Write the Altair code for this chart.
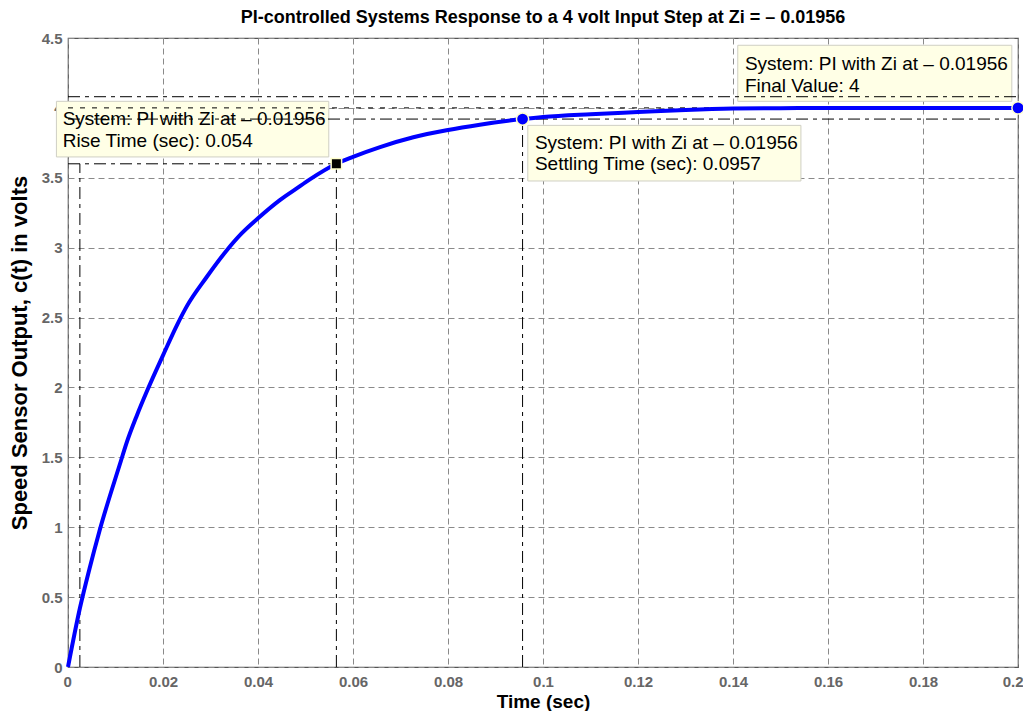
import altair as alt
import pandas as pd

# Step response
t_vals = [0, 0.0025, 0.0045, 0.0066, 0.0111, 0.0123, 0.0145, 0.0167, 0.02, 0.023, 0.025,
          0.0292, 0.0334, 0.0365, 0.04, 0.0446, 0.048, 0.051, 0.0565, 0.06, 0.0657, 0.0727,
          0.0797, 0.0867, 0.0957, 0.1, 0.11, 0.12, 0.13, 0.14, 0.15, 0.16, 0.18, 0.2]
c_vals = [0, 0.42, 0.7, 0.97, 1.47, 1.6, 1.8, 1.98, 2.23, 2.45, 2.58,
          2.79, 2.98, 3.1, 3.21, 3.34, 3.42, 3.49, 3.6, 3.65, 3.72, 3.79,
          3.84, 3.88, 3.92, 3.935, 3.955, 3.97, 3.985, 3.995, 3.998, 4.0, 4.0, 4.0]

x_ticks = [0, 0.02, 0.04, 0.06, 0.08, 0.1, 0.12, 0.14, 0.16, 0.18, 0.2]
y_ticks = [0, 0.5, 1, 1.5, 2, 2.5, 3, 3.5, 4, 4.5]

# Characteristic marker lines (x, x2, y, y2, style)
ml_x = [0, 0, 0, 0, 0.0025, 0.0565, 0.0957]
ml_x2 = [0.2, 0.2, 0.2, 0.0565, 0.0025, 0.0565, 0.0957]
ml_y = [4.08, 4.0, 3.92, 3.6, 0, 0, 0]
ml_y2 = [4.08, 4.0, 3.92, 3.6, 3.6, 3.6, 3.92]
ml_style = ["dashdot", "dash", "dashdot", "dashdot", "dashdot", "dashdot", "dashdot"]

# Characteristic points
pt_t = [0.0565, 0.0957, 0.2]
pt_c = [3.6, 3.92, 4.0]
pt_kind = ["rise", "settle", "final"]

# Data tips (boxes + text)
box_x = [-0.00244, 0.0968, 0.141]
box_x2 = [0.0549, 0.1543, 0.1987]
box_y = [3.649, 3.477, 4.047]
box_y2 = [4.047, 3.875, 4.448]
tip_x = [-0.00112, -0.00112, 0.0983, 0.0983, 0.1425, 0.1425]
tip_y = [3.875, 3.72, 3.709, 3.553, 4.274, 4.114]
tip_text = ["System: PI with Zi at \u2013 0.01956", "Rise Time (sec): 0.054",
            "System: PI with Zi at \u2013 0.01956", "Settling Time (sec): 0.0957",
            "System: PI with Zi at \u2013 0.01956", "Final Value: 4"]

curve = pd.DataFrame({"t": t_vals, "c": c_vals})
lines = pd.DataFrame({"x": ml_x, "x2": ml_x2, "y": ml_y, "y2": ml_y2, "s": ml_style})
pts = pd.DataFrame({"t": pt_t, "c": pt_c, "k": pt_kind})
boxes = pd.DataFrame({"x": box_x, "x2": box_x2, "y": box_y, "y2": box_y2})
tips = pd.DataFrame({"x": tip_x, "y": tip_y, "text": tip_text})

FONT = "Liberation Sans"
xs = alt.Scale(domain=[0, 0.2], nice=False, zero=False)
ys = alt.Scale(domain=[0, 4.5], nice=False, zero=False)

xax = alt.Axis(values=x_ticks, format=".2~f", title="Time (sec)", grid=True,
               gridDash=[6, 4], gridColor="#8a8a8a", ticks=False, domain=False,
               labelFont=FONT, labelFontSize=15, labelFontWeight="bold", labelColor="#666666",
               labelPadding=7, titleFont=FONT, titleFontSize=19, titleFontWeight="bold",
               titleColor="#000000", titlePadding=3, labelFlush=5, labelFlushOffset=5)
yax = alt.Axis(values=y_ticks, format=".1~f", title="Speed Sensor Output, c(t) in volts",
               grid=True, gridDash=[6, 4], gridColor="#8a8a8a", ticks=False, domain=False,
               labelFont=FONT, labelFontSize=15, labelFontWeight="bold", labelColor="#666666",
               labelPadding=6, titleFont=FONT, titleFontSize=22, titleFontWeight="bold",
               titleColor="#000000", titlePadding=10, labelFlush=False)

base_curve = alt.Chart(curve).mark_line(color="#0000ff", strokeWidth=4, interpolate="monotone").encode(
    x=alt.X("t:Q", scale=xs, axis=xax),
    y=alt.Y("c:Q", scale=ys, axis=yax),
)

box_layer = alt.Chart(boxes).mark_rect(fill="#ffffe6", stroke="#cfcfc4", strokeWidth=1).encode(
    x=alt.X("x:Q", scale=xs), x2="x2:Q", y=alt.Y("y:Q", scale=ys), y2="y2:Q"
)

dd = lines[lines["s"] == "dashdot"]
dl = lines[lines["s"] == "dash"]
rule_dd = alt.Chart(dd).mark_rule(color="#000000", strokeWidth=1, strokeDash=[12, 5, 4, 5]).encode(
    x=alt.X("x:Q", scale=xs), x2="x2:Q", y=alt.Y("y:Q", scale=ys), y2="y2:Q"
)
rule_d = alt.Chart(dl).mark_rule(color="#000000", strokeWidth=1, strokeDash=[5, 7]).encode(
    x=alt.X("x:Q", scale=xs), x2="x2:Q", y=alt.Y("y:Q", scale=ys), y2="y2:Q"
)

sq = alt.Chart(pts[pts["k"] == "rise"]).mark_square(
    size=110, color="#000000", opacity=1, stroke="#ffffcc", strokeWidth=1.5
).encode(x=alt.X("t:Q", scale=xs), y=alt.Y("c:Q", scale=ys))
circ = alt.Chart(pts[pts["k"] != "rise"]).mark_circle(
    size=150, color="#0000ff", opacity=1, stroke="#ffffcc", strokeWidth=1.5
).encode(x=alt.X("t:Q", scale=xs), y=alt.Y("c:Q", scale=ys))

tip_layer = alt.Chart(tips).mark_text(
    align="left", baseline="alphabetic", font=FONT, fontSize=19, color="#000000"
).encode(x=alt.X("x:Q", scale=xs), y=alt.Y("y:Q", scale=ys), text="text:N")

chart = alt.layer(box_layer, rule_dd, rule_d, base_curve, sq, circ, tip_layer).properties(
    width=950, height=629,
    title=alt.TitleParams(
        "PI-controlled Systems Response to a 4 volt Input Step at Zi = \u2013 0.01956",
        font=FONT, fontSize=18, fontWeight="bold", color="#000000", anchor="middle", offset=4),
    autosize=alt.AutoSizeParams(type="none"),
    padding={"left": 60, "top": 30, "right": 5, "bottom": 44},
).configure_view(stroke="#555555", strokeWidth=1.2)

chart.save("out.html", embed_options={"renderer": "svg", "actions": False})
